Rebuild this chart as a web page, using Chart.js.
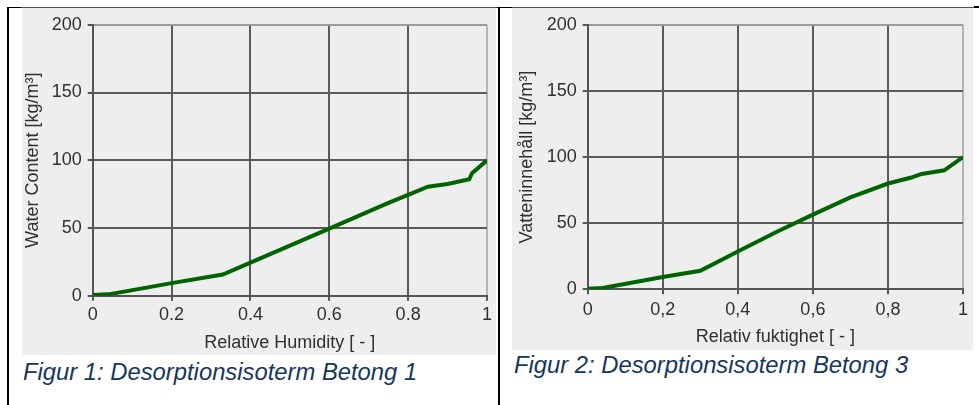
<!DOCTYPE html>
<html>
<head>
<meta charset="utf-8">
<script src="https://cdn.jsdelivr.net/npm/chart.js@4"></script>
<style>
  html, body { margin: 0; padding: 0; background: #fff; }
  body { width: 979px; height: 405px; position: relative; overflow: hidden; font-family: "Liberation Sans", Arial, sans-serif; }
  .box { position: absolute; background: #eeeeee; }
  .line { position: absolute; }
  .caption { position: absolute; font-style: italic; font-size: 23.8px; line-height: 24px; color: #17365d; white-space: nowrap; }
  canvas { display: block; }
</style>
</head>
<body>

<!-- table borders -->
<div class="line" style="left:21px; top:7px; width:954px; height:1px; background:#555;"></div>
<div class="line" style="left:7px; top:7px; width:14px; height:1px; background:#000;"></div>
<div class="line" style="left:497px; top:7px; width:15px; height:1px; background:#000;"></div>
<div class="line" style="left:974px; top:6px; width:5px; height:2px; background:#000;"></div>
<div class="line" style="left:7px; top:7px; width:2px; height:398px; background:#000;"></div>
<div class="line" style="left:498px; top:7px; width:2px; height:398px; background:#000;"></div>

<div class="box" style="left:22px; top:8px; width:474px; height:347px;">
  <canvas id="chartBetong1" width="474" height="347"></canvas>
</div>
<div class="box" style="left:512px; top:8px; width:461px; height:342px;">
  <canvas id="chartBetong3" width="461" height="342"></canvas>
</div>

<div class="caption" style="left:23px; top:360px;">Figur 1: Desorptionsisoterm Betong 1</div>
<div class="caption" style="left:514px; top:353px;">Figur 2: Desorptionsisoterm Betong 3</div>

<script>
// DATA
const rhBetong1 = [0, 0.04, 0.2, 0.33, 0.4, 0.5, 0.6, 0.75, 0.8, 0.85, 0.9, 0.955, 0.962, 1];
const wcBetong1 = [0.5, 1, 9.3, 15.6, 24.4, 37, 49.5, 68.5, 74.5, 80.5, 82.5, 86, 90.5, 100];

const rhBetong3 = [0, 0.04, 0.2, 0.3, 0.4, 0.5, 0.6, 0.7, 0.8, 0.86, 0.89, 0.95, 1];
const wcBetong3 = [0.5, 1, 9.3, 14, 28.6, 43, 56.5, 69.5, 80, 84.3, 87.2, 90, 100];

const xTickValues = [0, 0.2, 0.4, 0.6, 0.8, 1];
const yTickValues = [0, 50, 100, 150, 200];

const FONT = 'Liberation Sans, Arial, sans-serif';
const LINE_GREEN = '#006400';
const TEXT_GREY = '#303030';

// CONFIG
function makeConfig(xs, ys, opt) {
    return {
        type: 'line',
        data: {
            datasets: [{
                data: xs.map((x, i) => ({ x: x, y: ys[i] })),
                borderColor: LINE_GREEN,
                borderWidth: 4,
                pointRadius: 0,
                tension: 0,
                fill: false
            }]
        },
        options: {
            responsive: false,
            animation: false,
            devicePixelRatio: 1,
            layout: { padding: { top: opt.padTop, right: opt.padRight, left: 0, bottom: 0 } },
            plugins: {
                legend: { display: false },
                tooltip: { enabled: false }
            },
            scales: {
                x: {
                    type: 'linear',
                    min: 0,
                    max: 1,
                    afterBuildTicks: s => { s.ticks = xTickValues.map(v => ({ value: v })); },
                    afterFit: s => { s.height = opt.xHeight; },
                    border: { color: '#555', width: 2 },
                    grid: {
                        lineWidth: 2,
                        tickLength: 5,
                        tickColor: '#555',
                        color: c => (c.tick && c.tick.value === 1) ? '#b5b5b5' : '#5a5a5a'
                    },
                    ticks: {
                        padding: opt.xTickPad,
                        color: TEXT_GREY,
                        font: { family: FONT, size: 18 },
                        maxRotation: 0,
                        callback: v => opt.fmt(v)
                    },
                    title: {
                        display: true,
                        text: opt.xTitle,
                        color: TEXT_GREY,
                        font: { family: FONT, size: 18 },
                        padding: { top: 0, bottom: opt.xTitlePad }
                    }
                },
                y: {
                    type: 'linear',
                    min: 0,
                    max: 200,
                    afterBuildTicks: s => { s.ticks = yTickValues.map(v => ({ value: v })); },
                    afterFit: s => { s.width = opt.yWidth; },
                    border: { color: '#555', width: 2 },
                    grid: {
                        lineWidth: 2,
                        tickLength: 5,
                        tickColor: '#555',
                        color: c => (c.tick && c.tick.value === 200) ? '#9a9a9a' : '#5a5a5a'
                    },
                    ticks: {
                        padding: 6,
                        color: TEXT_GREY,
                        font: { family: FONT, size: 18 }
                    },
                    title: {
                        display: true,
                        text: opt.yTitle,
                        color: TEXT_GREY,
                        font: { family: FONT, size: 18 },
                        padding: { top: opt.yTitlePad, bottom: 0 }
                    }
                }
            }
        }
    };
}

const configBetong1 = makeConfig(rhBetong1, wcBetong1, {
    padTop: 9, padRight: 7, yWidth: 70.7, xHeight: 59.3,
    xTickPad: 4, xTitlePad: 1, yTitlePad: 0,
    xTitle: 'Relative Humidity [ - ]',
    yTitle: 'Water Content [kg/m³]',
    fmt: v => String(Math.round(v * 10) / 10)
});

const configBetong3 = makeConfig(rhBetong3, wcBetong3, {
    padTop: 7, padRight: 4.7, yWidth: 75.7, xHeight: 60.7,
    xTickPad: 5, xTitlePad: 2, yTitlePad: 4,
    xTitle: 'Relativ fuktighet [ - ]',
    yTitle: 'Vatteninnehåll [kg/m³]',
    fmt: v => String(Math.round(v * 10) / 10).replace('.', ',')
});

// RENDER
const chartBetong1 = new Chart(document.getElementById('chartBetong1'), configBetong1);
const chartBetong3 = new Chart(document.getElementById('chartBetong3'), configBetong3);
</script>
</body>
</html>
